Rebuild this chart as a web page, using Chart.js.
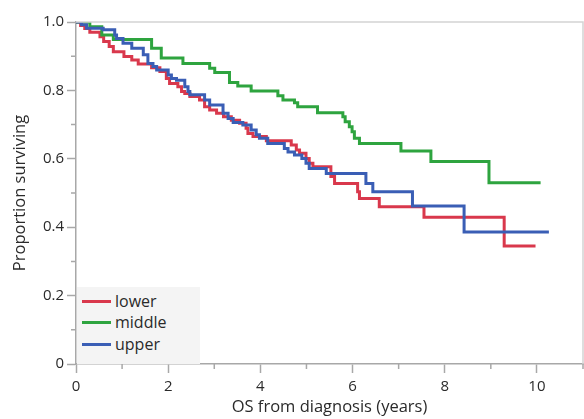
<!DOCTYPE html>
<html>
<head>
<meta charset="utf-8">
<script src="https://cdn.jsdelivr.net/npm/chart.js@4.4.1/dist/chart.umd.min.js"></script>
<style>
    body { margin: 0; background: #ffffff; }
    #wrap { position: relative; width: 584px; height: 419px; }
    #legendBox {
        position: absolute; left: 77px; top: 287px; width: 123px; height: 77px;
        background: #f4f4f4; font-family: 'Open Sans', sans-serif; font-size: 16px; color: #2a2a2a;
    }
    .row { position: absolute; left: 0; height: 20px; line-height: 20px; }
    .swatch { position: absolute; left: 5px; top: 9px; width: 29px; height: 3px; }
    .label { position: absolute; left: 38px; top: 0; white-space: nowrap; }
</style>
</head>
<body>
<div id="wrap">
    <canvas id="survivalChart"></canvas>
    <div id="legendBox"></div>
</div>
<script>
// Kaplan-Meier steps: time (years) and proportion surviving
const lowerTimes = [0, 0.10, 0.19, 0.30, 0.52, 0.60, 0.72, 0.81, 1.04, 1.21, 1.35, 1.64, 1.82, 1.96, 2.03, 2.21, 2.29, 2.36, 2.47, 2.68, 2.79, 2.90, 3.05, 3.20, 3.37, 3.55, 3.69, 3.73, 3.84, 4.13, 4.67, 4.78, 4.85, 4.99, 5.06, 5.14, 5.53, 5.61, 6.11, 6.15, 6.58, 7.55, 9.29, 9.97];
const lowerSurv  = [1.0, 0.990, 0.981, 0.970, 0.957, 0.943, 0.928, 0.913, 0.899, 0.889, 0.877, 0.866, 0.855, 0.835, 0.820, 0.811, 0.797, 0.791, 0.782, 0.772, 0.752, 0.743, 0.733, 0.723, 0.713, 0.704, 0.689, 0.674, 0.665, 0.653, 0.640, 0.626, 0.616, 0.601, 0.587, 0.577, 0.548, 0.528, 0.504, 0.484, 0.460, 0.429, 0.345, 0.345];

const middleTimes = [0, 0.30, 0.56, 0.81, 1.64, 1.85, 2.32, 2.90, 3.01, 3.33, 3.51, 3.80, 4.38, 4.49, 4.74, 4.81, 5.24, 5.79, 5.84, 5.93, 5.99, 6.04, 6.15, 7.05, 7.70, 8.96, 10.08];
const middleSurv  = [1.0, 0.986, 0.962, 0.949, 0.923, 0.895, 0.879, 0.865, 0.852, 0.823, 0.813, 0.798, 0.784, 0.772, 0.764, 0.752, 0.735, 0.723, 0.708, 0.694, 0.679, 0.660, 0.645, 0.623, 0.592, 0.530, 0.530];

const upperTimes = [0, 0.12, 0.23, 0.59, 0.84, 0.88, 1.02, 1.21, 1.46, 1.56, 1.67, 1.75, 2.00, 2.07, 2.18, 2.36, 2.43, 2.47, 2.79, 2.90, 3.19, 3.30, 3.41, 3.62, 3.80, 3.91, 3.98, 4.16, 4.52, 4.60, 4.74, 4.90, 4.99, 5.06, 5.43, 6.29, 6.44, 7.30, 8.42, 10.26];
const upperSurv  = [1.0, 0.992, 0.982, 0.977, 0.962, 0.952, 0.938, 0.923, 0.904, 0.879, 0.870, 0.860, 0.845, 0.835, 0.830, 0.811, 0.797, 0.787, 0.772, 0.757, 0.733, 0.718, 0.706, 0.699, 0.684, 0.670, 0.660, 0.645, 0.630, 0.620, 0.611, 0.601, 0.587, 0.572, 0.557, 0.528, 0.504, 0.462, 0.386, 0.386];

// Axis ticks
const xMajorTicks = [0, 2, 4, 6, 8, 10];
const xMinorTicks = [1, 3, 5, 7, 9, 11];
const yMajorTicks = [0, 0.2, 0.4, 0.6, 0.8, 1.0];
const yMinorTicks = [0.1, 0.3, 0.5, 0.7, 0.9];

const seriesNames = ['lower', 'middle', 'upper'];
const seriesColors = ['#d9384c', '#2ea43f', '#3a5eb5'];

const AXIS_COLOR = '#a8a8a8';
const FONT = "'Open Sans', sans-serif";

document.addEventListener('DOMContentLoaded', function() {
    createSurvivalChart();
    buildLegend();
});

function toPoints(times, surv) {
    return times.map((t, i) => ({ x: t, y: surv[i] }));
}

// Minor ticks and the light frame at top/right
const frameAndMinorTicks = {
    id: 'frameAndMinorTicks',
    afterDraw(chart) {
        const ctx = chart.ctx;
        const area = chart.chartArea;
        const xs = chart.scales.x;
        const ys = chart.scales.y;
        ctx.save();
        ctx.strokeStyle = '#d4d4d4';
        ctx.lineWidth = 1.5;
        ctx.beginPath();
        ctx.moveTo(area.left, area.top);
        ctx.lineTo(area.right, area.top);
        ctx.lineTo(area.right, area.bottom);
        ctx.stroke();

        ctx.strokeStyle = AXIS_COLOR;
        ctx.lineWidth = 1.5;
        ctx.beginPath();
        xMinorTicks.forEach(v => {
            const px = xs.getPixelForValue(v);
            ctx.moveTo(px, area.bottom);
            ctx.lineTo(px, area.bottom + 5);
        });
        yMinorTicks.forEach(v => {
            const py = ys.getPixelForValue(v);
            ctx.moveTo(area.left - 5, py);
            ctx.lineTo(area.left, py);
        });
        ctx.stroke();
        ctx.restore();
    }
};

function createSurvivalChart() {
    const ctx = document.getElementById('survivalChart');
    const seriesData = [
        toPoints(lowerTimes, lowerSurv),
        toPoints(middleTimes, middleSurv),
        toPoints(upperTimes, upperSurv)
    ];

    new Chart(ctx.getContext('2d'), {
        type: 'line',
        data: {
            datasets: seriesNames.map((name, i) => ({
                label: name,
                data: seriesData[i],
                borderColor: seriesColors[i],
                backgroundColor: seriesColors[i],
                borderWidth: 3,
                stepped: true,
                pointRadius: 0,
                fill: false,
                order: [2, 1, 0][i]
            }))
        },
        options: {
            responsive: true,
            maintainAspectRatio: false,
            animation: false,
            layout: { padding: { left: 0, right: 1, top: 22, bottom: 0 } },
            plugins: {
                legend: { display: false },
                tooltip: { enabled: false }
            },
            scales: {
                x: {
                    type: 'linear',
                    min: 0,
                    max: 11,
                    afterFit: function(scale) { scale.height = 55; },
                    afterBuildTicks: function(scale) {
                        scale.ticks = xMajorTicks.map(v => ({ value: v }));
                    },
                    ticks: {
                        padding: 5,
                        color: '#2a2a2a',
                        font: { family: FONT, size: 15 },
                        maxRotation: 0
                    },
                    grid: {
                        drawOnChartArea: false,
                        drawTicks: true,
                        tickLength: 9,
                        tickColor: AXIS_COLOR,
                        tickWidth: 1.5
                    },
                    border: { color: AXIS_COLOR, width: 1.5 },
                    title: {
                        display: true,
                        text: 'OS from diagnosis (years)',
                        color: '#2a2a2a',
                        font: { family: FONT, size: 16.5 },
                        padding: { top: 0, bottom: 2 }
                    }
                },
                y: {
                    type: 'linear',
                    min: 0,
                    max: 1,
                    afterFit: function(scale) { scale.width = 76; },
                    afterBuildTicks: function(scale) {
                        scale.ticks = yMajorTicks.map(v => ({ value: v }));
                    },
                    ticks: {
                        padding: 3,
                        color: '#2a2a2a',
                        font: { family: FONT, size: 15 },
                        callback: function(value) {
                            return value === 0 ? '0' : value.toFixed(1);
                        }
                    },
                    grid: {
                        drawOnChartArea: false,
                        drawTicks: true,
                        tickLength: 9,
                        tickColor: AXIS_COLOR,
                        tickWidth: 1.5
                    },
                    border: { color: AXIS_COLOR, width: 1.5 },
                    title: {
                        display: true,
                        text: 'Proportion surviving',
                        color: '#2a2a2a',
                        font: { family: FONT, size: 16.5 },
                        padding: { top: 10, bottom: 0 }
                    }
                }
            }
        },
        plugins: [frameAndMinorTicks]
    });
}

// Legend box in the lower-left corner of the plot
function buildLegend() {
    const box = document.getElementById('legendBox');
    const rowTops = [4, 25, 47];
    seriesNames.forEach((name, i) => {
        const row = document.createElement('div');
        row.className = 'row';
        row.style.top = rowTops[i] + 'px';
        row.innerHTML = '<span class="swatch" style="background:' + seriesColors[i] + '"></span>' +
            '<span class="label">' + name + '</span>';
        box.appendChild(row);
    });
}
</script>
</body>
</html>
